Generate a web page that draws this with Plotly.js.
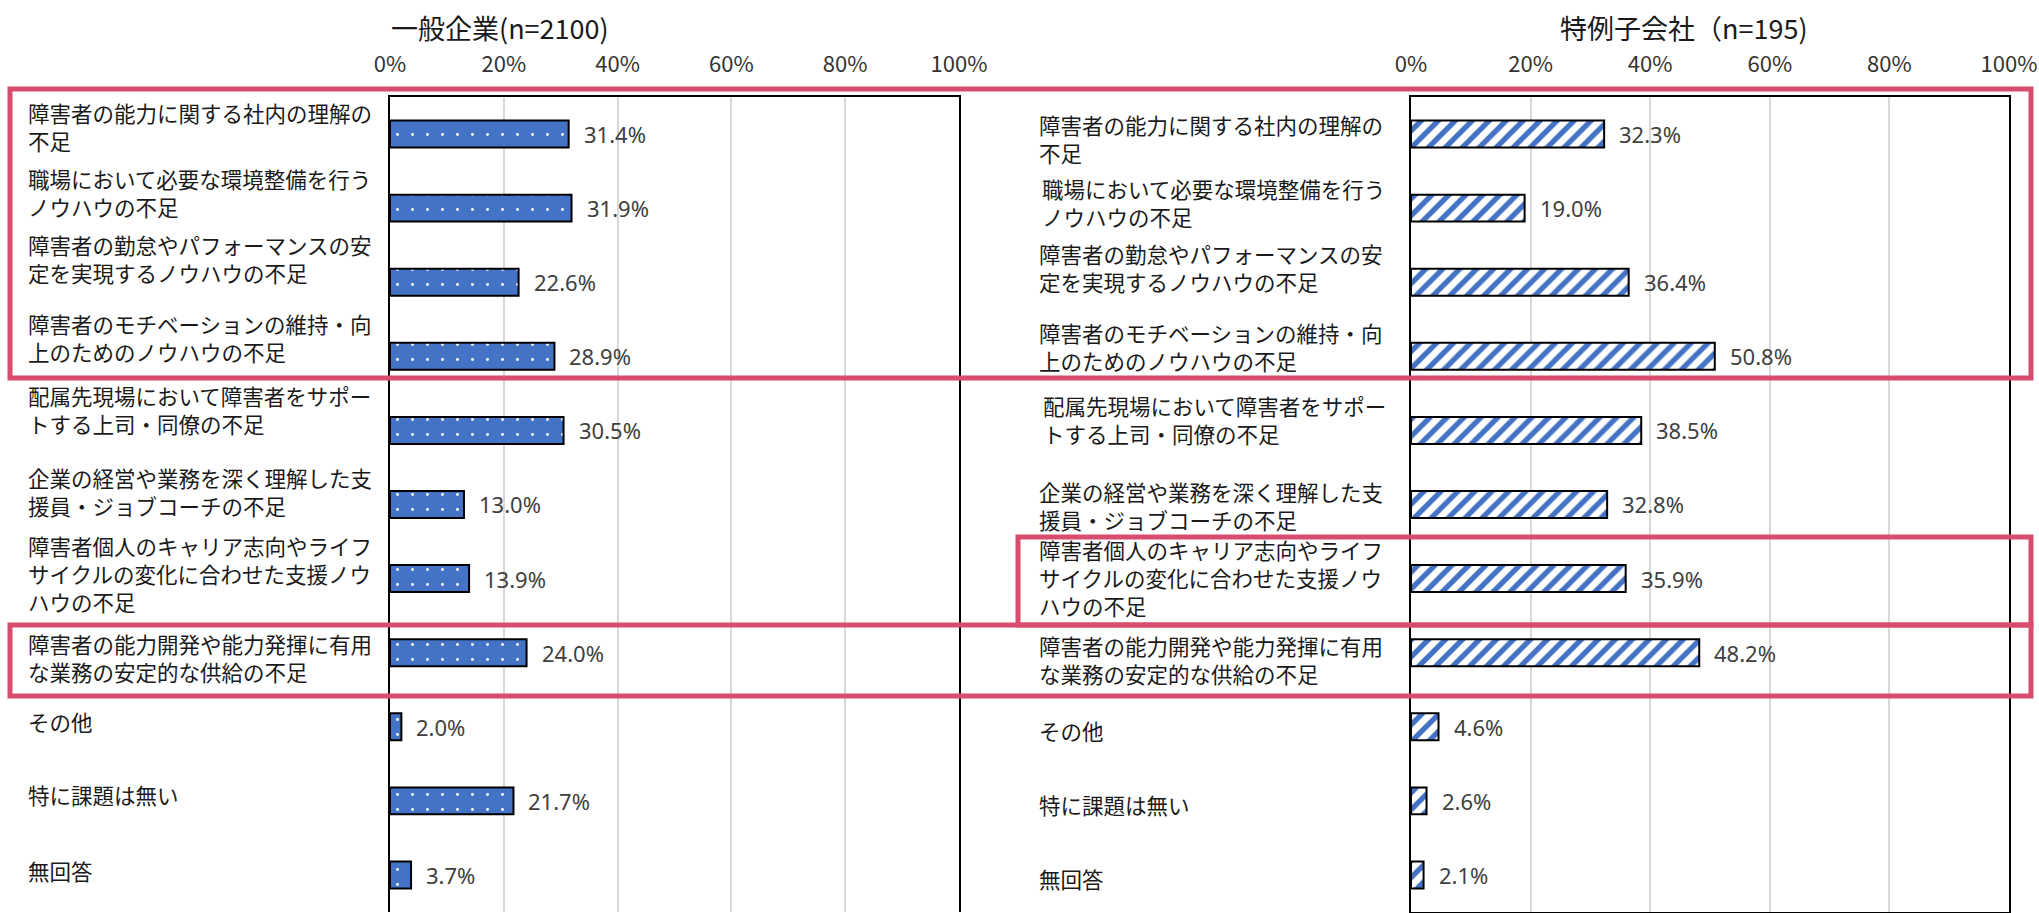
<!DOCTYPE html>
<html><head><meta charset="utf-8">
<script src="https://cdn.plot.ly/plotly-3.0.1.min.js"></script>
<style>html,body{margin:0;padding:0;background:#fff;}#chart{width:2039px;height:913px;}</style>
</head><body><div id="chart"></div>
<script>
// ---- data ----
const categories = [
  '障害者の能力に関する社内の理解の不足',
  '職場において必要な環境整備を行うノウハウの不足',
  '障害者の勤怠やパフォーマンスの安定を実現するノウハウの不足',
  '障害者のモチベーションの維持・向上のためのノウハウの不足',
  '配属先現場において障害者をサポートする上司・同僚の不足',
  '企業の経営や業務を深く理解した支援員・ジョブコーチの不足',
  '障害者個人のキャリア志向やライフサイクルの変化に合わせた支援ノウハウの不足',
  '障害者の能力開発や能力発揮に有用な業務の安定的な供給の不足',
  'その他',
  '特に課題は無い',
  '無回答'
];
const generalValues = [31.4, 31.9, 22.6, 28.9, 30.5, 13.0, 13.9, 24.0, 2.0, 21.7, 3.7];
const specialValues = [32.3, 19.0, 36.4, 50.8, 38.5, 32.8, 35.9, 48.2, 4.6, 2.6, 2.1];
const tickValues = [0, 20, 40, 60, 80, 100];
const tickLabels = ['0%', '20%', '40%', '60%', '80%', '100%'];
const titleGeneral = '一般企業(n=2100)';
const titleSpecial = '特例子会社（n=195)';

// ---- layout tweaks (pixels) ----
const W = 2039, H = 913;
const px = v => v / W;
const py = v => 1 - v / H;
const labelShiftL = [-8, -16, -24, -19, -21, -13, -5, 5, -5, -6, -4];
const labelShiftR = [4, -6, -15, -10, -11, 1, -1, 7, 4, 4, 4];
const labelIndentR = [0, 3, 0, 0, 4, 0, 0, 0, 0, 0, 0];
const labelFont = {family: '"Noto Sans CJK JP", "Noto Sans", sans-serif', size: 21.5, color: '#1a1a1a'};
const valueFont = {family: '"Noto Sans", "Noto Sans CJK JP", sans-serif', size: 22, color: '#404040'};
const tickFont = {family: '"Noto Sans CJK JP", "Noto Sans", sans-serif', size: 22, color: '#333333'};
const titleFont = {family: '"Noto Sans CJK JP", "Noto Sans", sans-serif', size: 27, color: '#1a1a1a'};
const blue = '#4472C4';
const pink = '#D94C6E';

function wrap(s, n) {
  const out = [];
  for (let i = 0; i < s.length; i += n) out.push(s.slice(i, i + n));
  return out.join('<br>');
}

const traces = [
  {
    type: 'bar', orientation: 'h', x: generalValues, y: categories,
    xaxis: 'x', yaxis: 'y', hoverinfo: 'skip',
    marker: {color: blue, line: {color: '#000', width: 2},
      pattern: {shape: '.', bgcolor: blue, fgcolor: '#ffffff', size: 15, solidity: 0.03, fillmode: 'replace'}}
  },
  {
    type: 'bar', orientation: 'h', x: specialValues, y: categories,
    xaxis: 'x2', yaxis: 'y2', hoverinfo: 'skip',
    marker: {color: '#ffffff', line: {color: '#000', width: 2},
      pattern: {shape: '/', bgcolor: '#ffffff', fgcolor: blue, size: 12, solidity: 0.45, fillmode: 'replace'}}
  }
];

const annotations = [];
function addLabels(yref, xStart, shifts, indents) {
  categories.forEach((c, i) => {
    annotations.push({
      xref: 'paper', x: px(xStart + (indents ? indents[i] : 0)), xanchor: 'left',
      yref: yref, y: c, yanchor: 'middle',
      yshift: -shifts[i],
      text: wrap(c, 16), showarrow: false, font: labelFont, align: 'left'
    });
  });
}
addLabels('y', 26, labelShiftL, null);
addLabels('y2', 1037, labelShiftR, labelIndentR);

function addValues(xref, yref, vals) {
  vals.forEach((v, i) => {
    annotations.push({
      xref: xref, x: v, xanchor: 'left', xshift: 13,
      yref: yref, y: categories[i], yanchor: 'middle',
      text: v.toFixed(1) + '%', showarrow: false, font: valueFont
    });
  });
}
addValues('x', 'y', generalValues);
addValues('x2', 'y2', specialValues);

annotations.push({xref: 'paper', yref: 'paper', x: px(500), y: py(27), xanchor: 'center', yanchor: 'middle',
  text: titleGeneral, showarrow: false, font: titleFont});
annotations.push({xref: 'paper', yref: 'paper', x: px(1684), y: py(27), xanchor: 'center', yanchor: 'middle',
  text: titleSpecial, showarrow: false, font: titleFont});

const boxLine = {color: pink, width: 5};
const shapes = [
  {type: 'rect', xref: 'paper', yref: 'paper', x0: px(10), x1: px(2031), y0: py(89), y1: py(378), line: boxLine},
  {type: 'rect', xref: 'paper', yref: 'paper', x0: px(1018), x1: px(2031), y0: py(537), y1: py(625), line: boxLine},
  {type: 'rect', xref: 'paper', yref: 'paper', x0: px(10), x1: px(2031), y0: py(625), y1: py(696), line: boxLine}
];

const yDomain = [py(912), py(97)];
function xAxis(domain, anchor, mirror) {
  return {
    domain: domain, anchor: anchor, side: 'top', range: [0, 100],
    tickmode: 'array', tickvals: tickValues, ticktext: tickLabels,
    ticks: '', ticklabelstandoff: 14, tickfont: tickFont,
    showgrid: true, gridcolor: '#D9D9D9', gridwidth: 2,
    zeroline: false, showline: true, linecolor: '#000', linewidth: 2,
    mirror: mirror, fixedrange: true
  };
}
function yAxis(anchor) {
  return {
    domain: yDomain, anchor: anchor, type: 'category',
    categoryorder: 'array', categoryarray: categories,
    range: [categories.length - 0.5, -0.5],
    showticklabels: false, ticks: '', showgrid: false, zeroline: false,
    showline: true, linecolor: '#000', linewidth: 2, mirror: true, fixedrange: true
  };
}

const layout = {
  width: W, height: H,
  margin: {l: 0, r: 0, t: 0, b: 0, pad: 0},
  paper_bgcolor: '#ffffff', plot_bgcolor: '#ffffff',
  showlegend: false, bargap: 0.636,
  xaxis: xAxis([px(390), px(959)], 'y', false),
  yaxis: yAxis('x'),
  xaxis2: xAxis([px(1411), px(2009)], 'y2', true),
  yaxis2: yAxis('x2'),
  annotations: annotations,
  shapes: shapes
};

Plotly.newPlot('chart', traces, layout, {displayModeBar: false, staticPlot: true});
</script>
</body></html>
